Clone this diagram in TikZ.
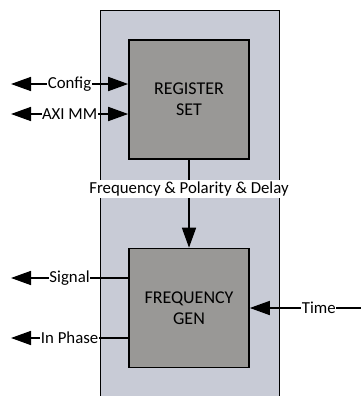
\documentclass[tikz,border=0pt]{standalone}
\usepackage{fontspec}
\setmainfont{Carlito}
\usepackage{tikz}
\usetikzlibrary{arrows.meta}

\definecolor{shellgray}{RGB}{200,203,214}
\definecolor{blockgray}{RGB}{153,152,150}

\tikzset{
  block/.style={draw=black, line width=1.6pt, fill=blockgray, minimum width=120pt,
    minimum height=119pt, align=center, font=\fontsize{18}{21}\selectfont, inner sep=0pt},
  sig/.style={line width=1.6pt, -{Triangle[length=20pt,width=14pt]}},
  bisig/.style={line width=1.6pt, {Triangle[length=20pt,width=14pt]}-{Triangle[length=20pt,width=14pt]}},
  lbl/.style={fill=white, inner sep=0.5pt, font=\fontsize{16.8}{19}\selectfont}
}

\begin{document}
\begin{tikzpicture}[x=1pt, y=-1pt]
  \useasboundingbox (0,0) rectangle (361,396);
  % shell
  \fill[shellgray] (100,10) rectangle (279,396);
  \draw[line width=0.8pt] (100,396) -- (100,10) -- (279,10) -- (279,396);

  % blocks
  \node[block] (reg) at (189,99.5) {REGISTER\\SET};
  \node[block] (gen) at (189,308) {FREQUENCY\\GEN};

  % free ends
  \coordinate (cfg) at (11,84);
  \coordinate (axi) at (11,114);
  \coordinate (signal) at (11,278);
  \coordinate (phase) at (11,338);
  \coordinate (time) at (361,308);

  % register interface
  \draw[bisig] (cfg) -- node[lbl] {Config} (reg.west |- cfg);
  \draw[bisig] (axi) -- node[lbl] {AXI MM} (reg.west |- axi);

  % control path
  \draw[sig] (reg.south) -- (gen.north);
  \node[lbl, inner sep=2pt] (ctrl) at (189,189) {Frequency \& Polarity \& Delay};

  % outputs and time input
  \draw[sig] (gen.west |- signal) -- node[lbl] {Signal} (signal);
  \draw[sig] (gen.west |- phase) -- node[lbl] {In Phase} (phase);
  \draw[sig] (time) -- node[lbl, pos=0.38] {Time} (gen.east);
\end{tikzpicture}
\end{document}
